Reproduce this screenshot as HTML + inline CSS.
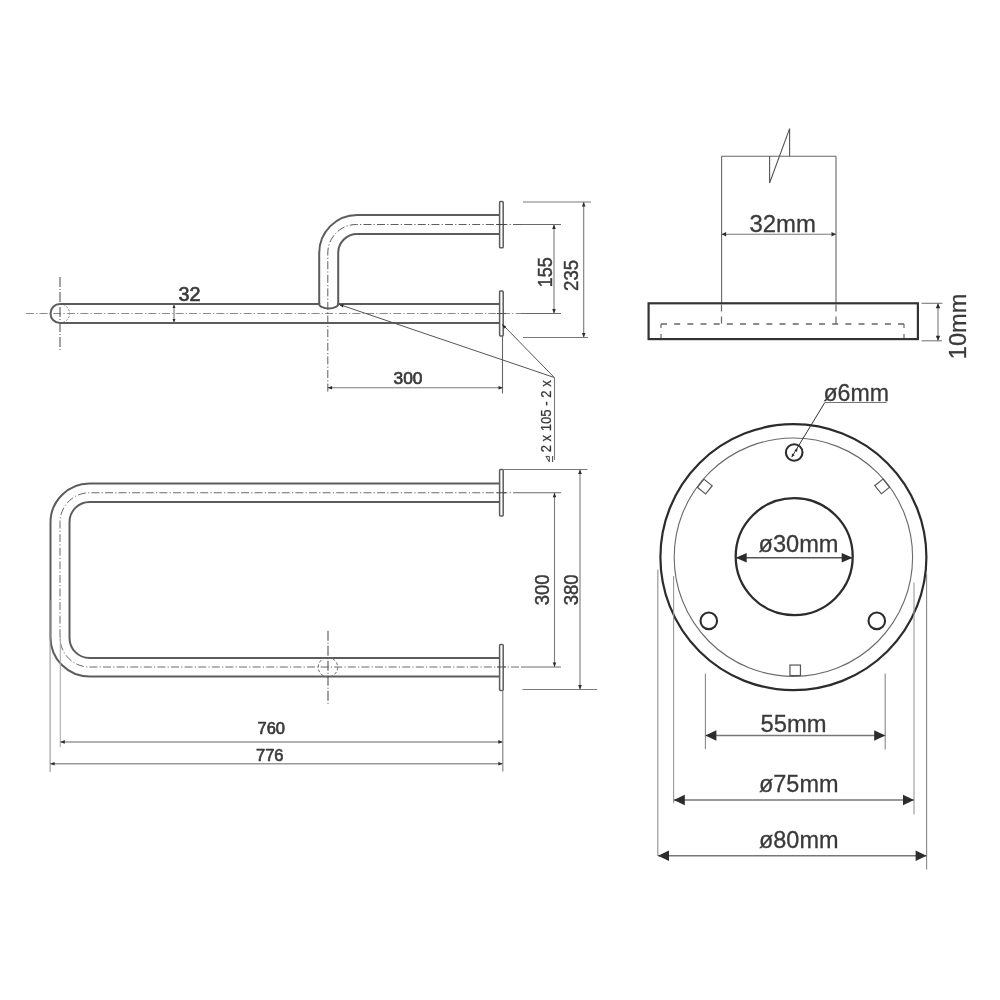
<!DOCTYPE html>
<html><head><meta charset="utf-8"><style>
html,body{margin:0;padding:0;background:#fff;width:1000px;height:1000px;overflow:hidden}
svg{display:block;filter:blur(0.45px)}
text{font-family:"Liberation Sans",sans-serif}
</style></head><body>
<svg width="1000" height="1000" viewBox="0 0 1000 1000">
<rect width="1000" height="1000" fill="#fff"/>
<line x1="26" y1="313.5" x2="521" y2="313.5" stroke="#8c8c8c" stroke-width="1" stroke-dasharray="8 2.2 1.2 2.2"/>
<line x1="521" y1="313.5" x2="561" y2="313.5" stroke="#6a6a6a" stroke-width="1"/>
<line x1="60" y1="277" x2="60" y2="350" stroke="#5a5a5a" stroke-width="1.1" stroke-dasharray="10 2 1 2"/>
<path d="M60 304 A9.5 9.5 0 0 1 60 323" stroke="#8a8a8a" stroke-width="1" fill="none" stroke-dasharray="2 1.5"/>
<path d="M499.5 304 H338.2 A9.5 4.5 0 0 1 319.2 304 H60 A9.5 9.5 0 0 0 60 323 H499.5" stroke="#5c5c5c" stroke-width="2" fill="none"/>
<path d="M499.5 215 H357.2 A38 38 0 0 0 319.2 253 V304" stroke="#5c5c5c" stroke-width="2" fill="none"/>
<path d="M499.5 234 H357.2 A19 19 0 0 0 338.2 253 V304" stroke="#5c5c5c" stroke-width="2" fill="none"/>
<path d="M521 224.5 H356.3 A28.5 28.5 0 0 0 327.8 253 V393" stroke="#5e5e5e" stroke-width="1" fill="none" stroke-dasharray="8 2.2 1.2 2.2"/>
<line x1="521" y1="224.5" x2="561" y2="224.5" stroke="#6a6a6a" stroke-width="1"/>
<rect x="499.6" y="201.5" width="3.6" height="46.3" rx="0.9" fill="#fff" stroke="#5c5c5c" stroke-width="1.5"/>
<rect x="499.6" y="291" width="3.6" height="45" rx="0.9" fill="#fff" stroke="#5c5c5c" stroke-width="1.5"/>
<line x1="497" y1="224.5" x2="506" y2="224.5" stroke="#444" stroke-width="1"/>
<line x1="497" y1="313.5" x2="506" y2="313.5" stroke="#555" stroke-width="1"/>
<line x1="174" y1="304.5" x2="174" y2="322.5" stroke="#7a7a7a" stroke-width="1.1"/>
<path d="M174.00 304.50 L175.50 308.00 L172.50 308.00 Z" fill="#2c2c2c"/>
<path d="M174.00 322.50 L172.50 319.00 L175.50 319.00 Z" fill="#2c2c2c"/>
<text x="178.5" y="300.8" font-size="19.5" fill="#3a3a3a" text-anchor="start" font-weight="normal" stroke="#3a3a3a" stroke-width="0.7" textLength="22" lengthAdjust="spacingAndGlyphs">32</text>
<line x1="554" y1="224.5" x2="554" y2="313.5" stroke="#7a7a7a" stroke-width="1.1"/>
<path d="M554.00 224.50 L555.80 229.00 L552.20 229.00 Z" fill="#2c2c2c"/>
<path d="M554.00 313.50 L552.20 309.00 L555.80 309.00 Z" fill="#2c2c2c"/>
<text x="551.8" y="287.3" font-size="19.5" fill="#3a3a3a" text-anchor="start" font-weight="normal" stroke="#3a3a3a" stroke-width="0.45" textLength="30" lengthAdjust="spacingAndGlyphs" transform="rotate(-90 551.8 287.3)">155</text>
<line x1="523" y1="202" x2="591" y2="202" stroke="#7a7a7a" stroke-width="1.1"/>
<line x1="523" y1="337.5" x2="588" y2="337.5" stroke="#7a7a7a" stroke-width="1.1"/>
<line x1="583.7" y1="202" x2="583.7" y2="337.5" stroke="#7a7a7a" stroke-width="1.1"/>
<path d="M583.70 202.00 L585.50 206.50 L581.90 206.50 Z" fill="#2c2c2c"/>
<path d="M583.70 337.50 L581.90 333.00 L585.50 333.00 Z" fill="#2c2c2c"/>
<text x="578.2" y="290.9" font-size="19.5" fill="#3a3a3a" text-anchor="start" font-weight="normal" stroke="#3a3a3a" stroke-width="0.45" textLength="31" lengthAdjust="spacingAndGlyphs" transform="rotate(-90 578.2 290.9)">235</text>
<line x1="502.5" y1="336" x2="502.5" y2="393.5" stroke="#666" stroke-width="1.1"/>
<line x1="327.6" y1="387.7" x2="503" y2="387.7" stroke="#7a7a7a" stroke-width="1.1"/>
<path d="M327.60 387.70 L332.10 385.90 L332.10 389.50 Z" fill="#2c2c2c"/>
<path d="M503.00 387.70 L498.50 389.50 L498.50 385.90 Z" fill="#2c2c2c"/>
<text x="393.5" y="384.3" font-size="17.2" fill="#3a3a3a" text-anchor="start" font-weight="normal" stroke="#3a3a3a" stroke-width="0.7" textLength="29" lengthAdjust="spacingAndGlyphs">300</text>
<line x1="339" y1="304.4" x2="554.3" y2="377.5" stroke="#555" stroke-width="1"/>
<line x1="502.5" y1="324.5" x2="554.3" y2="377.5" stroke="#555" stroke-width="1"/>
<path d="M502.00 324.30 L506.29 326.40 L504.00 328.64 Z" fill="#2c2c2c"/>
<path d="M339.00 304.60 L343.78 304.53 L342.75 307.56 Z" fill="#2c2c2c"/>
<line x1="554.5" y1="377.5" x2="554.5" y2="460" stroke="#7a7a7a" stroke-width="1.1"/>
<text x="551.2" y="452.3" font-size="13.8" fill="#3a3a3a" text-anchor="start" font-weight="normal" stroke="#3a3a3a" stroke-width="0.25" textLength="72" lengthAdjust="spacingAndGlyphs" transform="rotate(-90 551.2 452.3)">2 x 105 - 2 x</text>
<path d="M545.9 456.4 L549.3 461.8 V456.4 Z M552.6 456 V462" stroke="#444" stroke-width="1" fill="none"/>
<path d="M499.5 483.5 H89.5 A39 39 0 0 0 50.5 522.5 V637.5 A39 39 0 0 0 89.5 676.5 H499.5" stroke="#5c5c5c" stroke-width="2" fill="none"/>
<path d="M499.5 502 H89.5 A20 20 0 0 0 69.5 522 V638 A20 20 0 0 0 89.5 658 H499.5" stroke="#5c5c5c" stroke-width="2" fill="none"/>
<path d="M521 492.75 H89.5 A29.5 29.5 0 0 0 60 522.25 V637.5 A29.5 29.5 0 0 0 89.5 667 H521" stroke="#6a6a6a" stroke-width="1" fill="none" stroke-dasharray="8 2.2 1.2 2.2"/>
<line x1="521" y1="492.75" x2="561" y2="492.75" stroke="#6a6a6a" stroke-width="1"/>
<line x1="521" y1="667" x2="561" y2="667" stroke="#6a6a6a" stroke-width="1"/>
<rect x="499.6" y="469.5" width="3.6" height="46.5" rx="0.9" fill="#fff" stroke="#5c5c5c" stroke-width="1.5"/>
<rect x="499.6" y="644.5" width="3.6" height="46" rx="0.9" fill="#fff" stroke="#5c5c5c" stroke-width="1.5"/>
<line x1="497" y1="492.75" x2="506" y2="492.75" stroke="#444" stroke-width="1"/>
<line x1="497" y1="667" x2="506" y2="667" stroke="#555" stroke-width="1"/>
<path d="M328 657.5 A9.7 9.7 0 1 1 327.9 657.5" stroke="#666" stroke-width="1" fill="none" stroke-dasharray="3 2"/>
<line x1="328" y1="630.8" x2="328" y2="704.7" stroke="#555" stroke-width="1.1" stroke-dasharray="10 2 1 2"/>
<line x1="554.5" y1="492.75" x2="554.5" y2="667" stroke="#7a7a7a" stroke-width="1.1"/>
<path d="M554.50 492.75 L556.30 497.25 L552.70 497.25 Z" fill="#2c2c2c"/>
<path d="M554.50 667.00 L552.70 662.50 L556.30 662.50 Z" fill="#2c2c2c"/>
<text x="548.9" y="605.3" font-size="19.5" fill="#3a3a3a" text-anchor="start" font-weight="normal" stroke="#3a3a3a" stroke-width="0.45" textLength="31" lengthAdjust="spacingAndGlyphs" transform="rotate(-90 548.9 605.3)">300</text>
<line x1="503" y1="469.5" x2="587.5" y2="469.5" stroke="#7a7a7a" stroke-width="1.1"/>
<line x1="522.5" y1="689.5" x2="597" y2="689.5" stroke="#7a7a7a" stroke-width="1.1"/>
<line x1="580" y1="469.5" x2="580" y2="689.5" stroke="#7a7a7a" stroke-width="1.1"/>
<path d="M580.00 469.50 L581.80 474.00 L578.20 474.00 Z" fill="#2c2c2c"/>
<path d="M580.00 689.50 L578.20 685.00 L581.80 685.00 Z" fill="#2c2c2c"/>
<text x="578.2" y="605.3" font-size="19.5" fill="#3a3a3a" text-anchor="start" font-weight="normal" stroke="#3a3a3a" stroke-width="0.45" textLength="31" lengthAdjust="spacingAndGlyphs" transform="rotate(-90 578.2 605.3)">380</text>
<line x1="60.3" y1="636" x2="60.3" y2="747.3" stroke="#aaa" stroke-width="1.1"/>
<line x1="50.1" y1="600" x2="50.1" y2="772" stroke="#999" stroke-width="1.1"/>
<line x1="502.8" y1="690.5" x2="502.8" y2="771.5" stroke="#7a7a7a" stroke-width="1.1"/>
<line x1="60.3" y1="741.9" x2="502.8" y2="741.9" stroke="#999" stroke-width="1.5"/>
<path d="M60.30 741.90 L64.80 740.10 L64.80 743.70 Z" fill="#2c2c2c"/>
<path d="M502.80 741.90 L498.30 743.70 L498.30 740.10 Z" fill="#2c2c2c"/>
<text x="257.5" y="734.4" font-size="16.8" fill="#3a3a3a" text-anchor="start" font-weight="normal" stroke="#3a3a3a" stroke-width="0.7" textLength="27.5" lengthAdjust="spacingAndGlyphs">760</text>
<line x1="50.1" y1="763.7" x2="502.8" y2="763.7" stroke="#999" stroke-width="1.5"/>
<path d="M50.10 763.70 L54.60 761.90 L54.60 765.50 Z" fill="#2c2c2c"/>
<path d="M502.80 763.70 L498.30 765.50 L498.30 761.90 Z" fill="#2c2c2c"/>
<text x="256" y="760.8" font-size="16.8" fill="#3a3a3a" text-anchor="start" font-weight="normal" stroke="#3a3a3a" stroke-width="0.7" textLength="27.5" lengthAdjust="spacingAndGlyphs">776</text>
<line x1="721.6" y1="156.3" x2="721.6" y2="303.3" stroke="#666" stroke-width="1.1"/>
<line x1="836" y1="156.3" x2="836" y2="303.3" stroke="#666" stroke-width="1.1"/>
<line x1="721.6" y1="156.3" x2="836" y2="156.3" stroke="#666" stroke-width="1.1"/>
<path d="M789.6 156.3 V128.6 L769.6 183 V156.3" stroke="#555" stroke-width="1.1" fill="none"/>
<rect x="648.6" y="303.3" width="269.3" height="35.8" fill="none" stroke="#333" stroke-width="2.2"/>
<path d="M721.5 304.5 V324 M836 304.5 V324" stroke="#666" stroke-width="1.2" fill="none" stroke-dasharray="7 5"/>
<path d="M661 324 H904" stroke="#666" stroke-width="1.3" fill="none" stroke-dasharray="6 7.17"/>
<path d="M661 324 V338 M904 324 V338" stroke="#666" stroke-width="1.2" fill="none" stroke-dasharray="4 6 4"/>
<line x1="721.6" y1="234.2" x2="836" y2="234.2" stroke="#7a7a7a" stroke-width="1.1"/>
<path d="M721.60 234.20 L726.10 231.95 L726.10 236.45 Z" fill="#2c2c2c"/>
<path d="M836.00 234.20 L831.50 236.45 L831.50 231.95 Z" fill="#2c2c2c"/>
<text x="749.5" y="231.5" font-size="24" fill="#3a3a3a" text-anchor="start" font-weight="normal" stroke="#3a3a3a" stroke-width="0.3" textLength="66.5" lengthAdjust="spacingAndGlyphs">32mm</text>
<line x1="921.6" y1="303.3" x2="942.4" y2="303.3" stroke="#7a7a7a" stroke-width="1.1"/>
<line x1="921.6" y1="340.8" x2="942" y2="340.8" stroke="#7a7a7a" stroke-width="1.1"/>
<line x1="938" y1="303.3" x2="938" y2="340.8" stroke="#7a7a7a" stroke-width="1.1"/>
<path d="M938.00 303.30 L940.25 308.30 L935.75 308.30 Z" fill="#2c2c2c"/>
<path d="M938.00 340.80 L935.75 335.80 L940.25 335.80 Z" fill="#2c2c2c"/>
<text x="966.2" y="359.2" font-size="24" fill="#3a3a3a" text-anchor="start" font-weight="normal" stroke="#3a3a3a" stroke-width="0.3" textLength="65.5" lengthAdjust="spacingAndGlyphs" transform="rotate(-90 966.2 359.2)">10mm</text>
<circle cx="793.4" cy="557.2" r="133" fill="none" stroke="#2c2c2c" stroke-width="2.2"/>
<circle cx="793.4" cy="557.2" r="119.2" fill="none" stroke="#6a6a6a" stroke-width="1.1"/>
<circle cx="794.2" cy="556.6" r="58.5" fill="none" stroke="#2c2c2c" stroke-width="2.3"/>
<circle cx="794.2" cy="452.5" r="8.3" fill="none" stroke="#2c2c2c" stroke-width="2.1"/>
<circle cx="708.8" cy="620.8" r="8.3" fill="none" stroke="#2c2c2c" stroke-width="2.1"/>
<circle cx="876.8" cy="620.8" r="8.3" fill="none" stroke="#2c2c2c" stroke-width="2.1"/>
<rect x="699.55" y="481.35" width="10.5" height="10.5" fill="none" stroke="#555" stroke-width="1.2" transform="rotate(-231.4 704.8 486.6)"/>
<rect x="876.95" y="481.15" width="10.5" height="10.5" fill="none" stroke="#555" stroke-width="1.2" transform="rotate(-128.4 882.2 486.4)"/>
<rect x="789.95" y="665.05" width="10.5" height="10.5" fill="none" stroke="#555" stroke-width="1.2" transform="rotate(0 795.2 670.3)"/>
<line x1="824.8" y1="402.5" x2="792" y2="456.6" stroke="#333" stroke-width="1"/>
<line x1="824.8" y1="402.5" x2="886.7" y2="402.5" stroke="#777" stroke-width="1.2"/>
<path d="M797.60 448.20 L797.02 452.00 L794.35 450.25 Z" fill="#2c2c2c"/>
<path d="M791.50 457.20 L792.08 453.40 L794.75 455.15 Z" fill="#2c2c2c"/>
<text x="823.5" y="400.5" font-size="24" fill="#3a3a3a" text-anchor="start" font-weight="normal" stroke="#3a3a3a" stroke-width="0.3" textLength="65.5" lengthAdjust="spacingAndGlyphs">ø6mm</text>
<line x1="735.7" y1="557.8" x2="852.7" y2="557.8" stroke="#555" stroke-width="1.5"/>
<path d="M735.70 557.80 L746.70 553.05 L746.70 562.55 Z" fill="#2c2c2c"/>
<path d="M852.70 557.80 L841.70 562.55 L841.70 553.05 Z" fill="#2c2c2c"/>
<text x="758.5" y="552" font-size="24" fill="#3a3a3a" text-anchor="start" font-weight="normal" stroke="#3a3a3a" stroke-width="0.3" textLength="80" lengthAdjust="spacingAndGlyphs">ø30mm</text>
<line x1="657.8" y1="569.6" x2="657.8" y2="856" stroke="#999" stroke-width="1.2"/>
<line x1="673.6" y1="576" x2="673.6" y2="803.2" stroke="#999" stroke-width="1.1"/>
<line x1="705.4" y1="673.6" x2="705.4" y2="749" stroke="#888" stroke-width="1.1"/>
<line x1="885.2" y1="673.6" x2="885.2" y2="749.6" stroke="#888" stroke-width="1.1"/>
<line x1="914" y1="582.4" x2="914" y2="814.4" stroke="#999" stroke-width="1.1"/>
<line x1="926.6" y1="573.5" x2="926.6" y2="869.6" stroke="#888" stroke-width="1.1"/>
<line x1="705.4" y1="735.5" x2="885.2" y2="735.5" stroke="#777" stroke-width="1.5"/>
<path d="M705.40 735.50 L716.40 730.25 L716.40 740.75 Z" fill="#2c2c2c"/>
<path d="M885.20 735.50 L874.20 740.75 L874.20 730.25 Z" fill="#2c2c2c"/>
<text x="760.5" y="731.8" font-size="24" fill="#3a3a3a" text-anchor="start" font-weight="normal" stroke="#3a3a3a" stroke-width="0.3" textLength="66" lengthAdjust="spacingAndGlyphs">55mm</text>
<line x1="673.8" y1="800" x2="914" y2="800" stroke="#777" stroke-width="1.5"/>
<path d="M673.80 800.00 L684.80 794.75 L684.80 805.25 Z" fill="#2c2c2c"/>
<path d="M914.00 800.00 L903.00 805.25 L903.00 794.75 Z" fill="#2c2c2c"/>
<text x="759" y="791.8" font-size="24" fill="#3a3a3a" text-anchor="start" font-weight="normal" stroke="#3a3a3a" stroke-width="0.3" textLength="79.5" lengthAdjust="spacingAndGlyphs">ø75mm</text>
<line x1="658" y1="855.7" x2="926.6" y2="855.7" stroke="#777" stroke-width="1.5"/>
<path d="M658.00 855.70 L669.00 850.45 L669.00 860.95 Z" fill="#2c2c2c"/>
<path d="M926.60 855.70 L915.60 860.95 L915.60 850.45 Z" fill="#2c2c2c"/>
<text x="759" y="848" font-size="24" fill="#3a3a3a" text-anchor="start" font-weight="normal" stroke="#3a3a3a" stroke-width="0.3" textLength="79.5" lengthAdjust="spacingAndGlyphs">ø80mm</text>
</svg>
</body></html>
